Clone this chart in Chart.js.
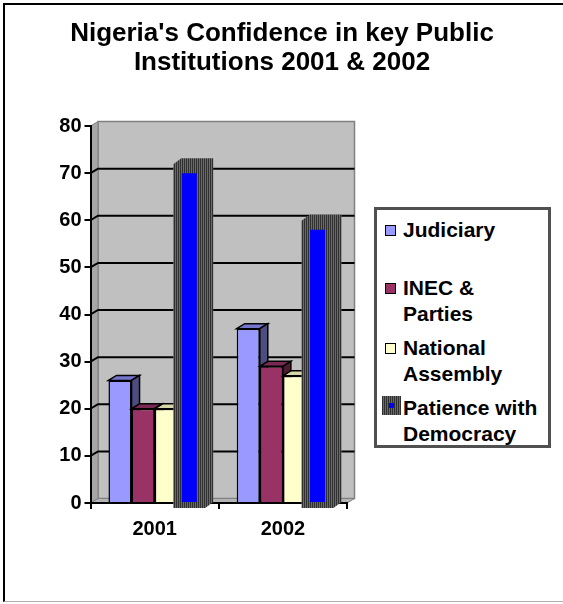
<!DOCTYPE html>
<html>
<head>
<meta charset="utf-8">
<script src="https://cdn.jsdelivr.net/npm/chart.js@4.4.1/dist/chart.umd.min.js"></script>
<style>
  body { margin: 0; background: #fff; font-family: "Liberation Sans", Arial, sans-serif; }
  #wrap { position: relative; width: 563px; height: 604px; overflow: hidden; }
  #frame { position: absolute; left: 3px; top: 3px; width: 620px; height: 596px;
           border-left: 2px solid #000; border-top: 2px solid #000; border-bottom: 1px solid #b0b0b0; }
  #title { position: absolute; left: 0; top: 18px; width: 564px; text-align: center;
           font-weight: bold; font-size: 26px; line-height: 29px; color: #000; }
  canvas { position: absolute; left: 0; top: 0; }
  #legend { position: absolute; left: 374px; top: 207px; width: 171px; height: 235px;
            border: 3px solid #505050; background: #fff; }
  .item { position: absolute; left: 26px; font-weight: bold; font-size: 21px; line-height: 26px; white-space: nowrap; }
  .mark { position: absolute; left: -18px; top: 8px; width: 9px; height: 9px; border: 1.5px solid #000; }
  .mark.pat { left: -21px; top: 1px; width: 19px; height: 19px; border: none;
              background: repeating-linear-gradient(90deg, #303030 0 1px, #6a6a6a 1px 2px); }
  .mark.pat::after { content: ""; position: absolute; left: 7px; top: 7px; width: 5px; height: 5px; background: #0000ff; }
</style>
</head>
<body>
<div id="wrap">
  <div id="frame"></div>
  <canvas id="chart" width="563" height="604"></canvas>
  <div id="title">Nigeria's Confidence in key Public<br>Institutions 2001 &amp; 2002</div>
  <div id="legend"></div>
</div>
<script>
// Data
const categories = ['2001', '2002'];
const judiciary = [26, 37];
const inecParties = [20, 29];
const nationalAssembly = [20, 27];
const patienceDemocracy = [70, 58];
const seriesNames = [['Judiciary'], ['INEC &', 'Parties'], ['National', 'Assembly'], ['Patience with', 'Democracy']];
const yMax = 80;
const yStep = 10;

const fills = ['#9999ff', '#993366', '#ffffcc', '#0000ff'];
const tops = ['#7575cc', '#7a2952', '#d6d6a8', null];
const sides = ['#4d4d80', '#4d1a33', '#80806a', null];

// depth offsets
const WALL_DX = 7.5, WALL_DY = -4.5;
const BAR_DX = 8, BAR_DY = -5;

// striped pattern for the "Patience" box
const pc = document.createElement('canvas');
pc.width = 2; pc.height = 1;
const pctx = pc.getContext('2d');
pctx.fillStyle = '#303030'; pctx.fillRect(0, 0, 1, 1);
pctx.fillStyle = '#6a6a6a'; pctx.fillRect(1, 0, 1, 1);

function poly(ctx, pts, fill, stroke, lw) {
    ctx.beginPath();
    ctx.moveTo(pts[0][0], pts[0][1]);
    for (let i = 1; i < pts.length; i++) ctx.lineTo(pts[i][0], pts[i][1]);
    ctx.closePath();
    if (fill) { ctx.fillStyle = fill; ctx.fill(); }
    if (stroke) { ctx.strokeStyle = stroke; ctx.lineWidth = lw || 1; ctx.stroke(); }
}

const wallPlugin = {
    id: 'wall3d',
    beforeDraw(chart) {
        const ctx = chart.ctx;
        const { left, right, top, bottom } = chart.chartArea;
        const ys = chart.scales.y;
        ctx.save();
        // back wall
        poly(ctx, [[left + WALL_DX, top + WALL_DY], [right + WALL_DX, top + WALL_DY],
                   [right + WALL_DX, bottom + WALL_DY], [left + WALL_DX, bottom + WALL_DY]], '#c0c0c0', '#808080', 1.5);
        // side wall
        poly(ctx, [[left, top], [left + WALL_DX, top + WALL_DY], [left + WALL_DX, bottom + WALL_DY], [left, bottom]],
             '#a6a6a6', '#808080', 1);
        // floor
        poly(ctx, [[left, bottom], [left + WALL_DX, bottom + WALL_DY], [right + WALL_DX, bottom + WALL_DY], [right, bottom]],
             '#b4b4b4', '#808080', 1);
        // gridlines on the wall
        ctx.strokeStyle = '#000';
        ctx.lineWidth = 2;
        for (let v = yStep; v < yMax; v += yStep) {
            const py = ys.getPixelForValue(v);
            ctx.beginPath();
            ctx.moveTo(left, py);
            ctx.lineTo(left + WALL_DX, py + WALL_DY);
            ctx.lineTo(right + WALL_DX, py + WALL_DY);
            ctx.stroke();
        }
        ctx.restore();
    },
    beforeDatasetDraw() {
        return false; // bars are drawn left to right below
    },
    afterDatasetsDraw(chart) {
        const ctx = chart.ctx;
        const pattern = ctx.createPattern(pc, 'repeat');
        const n = chart.data.labels.length;
        ctx.save();
        for (let j = 0; j < n; j++) {
            chart.data.datasets.forEach((ds, i) => {
                const el = chart.getDatasetMeta(i).data[j];
                const x0 = el.x - el.width / 2, x1 = el.x + el.width / 2;
                const ty = el.y, base = el.base;
                if (i === 3) {
                    const fx0 = x0 - 8.5, fx1 = x1 + 8.5, ft = ty - 9, fb = base + 6;
                    poly(ctx, [[fx0, ft], [fx0 + BAR_DX, ft + BAR_DY - 1], [fx1 + BAR_DX, ft + BAR_DY - 1],
                               [fx1 + BAR_DX, fb + BAR_DY - 1], [fx1, fb], [fx0, fb]], pattern);
                    el.draw(ctx);
                } else {
                    el.draw(ctx);
                    poly(ctx, [[x0, ty], [x0 + BAR_DX, ty + BAR_DY], [x1 + BAR_DX, ty + BAR_DY], [x1, ty]], tops[i], '#000', 1.5);
                    poly(ctx, [[x1, ty], [x1 + BAR_DX, ty + BAR_DY], [x1 + BAR_DX, base + BAR_DY], [x1, base]], sides[i], '#000', 1.5);
                }
            });
        }
        ctx.restore();
    }
};

const tickFont = { family: '"Liberation Sans", Arial, sans-serif', size: 20, weight: 'bold' };
const seriesData = [judiciary, inecParties, nationalAssembly, patienceDemocracy];

new Chart(document.getElementById('chart'), {
    type: 'bar',
    data: {
        labels: categories,
        datasets: seriesData.map((d, i) => ({
            label: seriesNames[i].join(' '),
            data: d,
            backgroundColor: fills[i],
            borderColor: '#000',
            borderWidth: i === 3 ? 0 : 1.5,
            barPercentage: i === 3 ? 0.65 : 1
        }))
    },
    options: {
        responsive: false,
        animation: false,
        layout: { padding: { left: 4, right: 216, top: 126, bottom: 41 } },
        datasets: { bar: { categoryPercentage: 0.72 } },
        plugins: { legend: { display: false }, title: { display: false }, tooltip: { enabled: false } },
        scales: {
            x: {
                grid: { drawOnChartArea: false, color: '#000', lineWidth: 2, tickLength: 6, offset: true },
                border: { color: '#000', width: 2 },
                ticks: { color: '#000', font: tickFont, padding: 8 },
                afterFit(s) { s.height = 60; }
            },
            y: {
                min: 0, max: yMax,
                grid: { drawOnChartArea: false, color: '#000', lineWidth: 2, tickLength: 6 },
                border: { color: '#000', width: 2 },
                ticks: { stepSize: yStep, color: '#000', font: tickFont, padding: 3 },
                afterFit(s) { s.width = 86.5; }
            }
        }
    },
    plugins: [wallPlugin]
});

// legend
const legendTops = [7, 65, 125, 185];
const legend = document.getElementById('legend');
seriesNames.forEach((lines, i) => {
    const item = document.createElement('div');
    item.className = 'item';
    item.style.top = legendTops[i] + 'px';
    const mark = document.createElement('span');
    mark.className = i === 3 ? 'mark pat' : 'mark';
    if (i !== 3) mark.style.background = fills[i];
    item.appendChild(mark);
    lines.forEach((t, k) => {
        if (k) item.appendChild(document.createElement('br'));
        item.appendChild(document.createTextNode(t));
    });
    legend.appendChild(item);
});
</script>
</body>
</html>
